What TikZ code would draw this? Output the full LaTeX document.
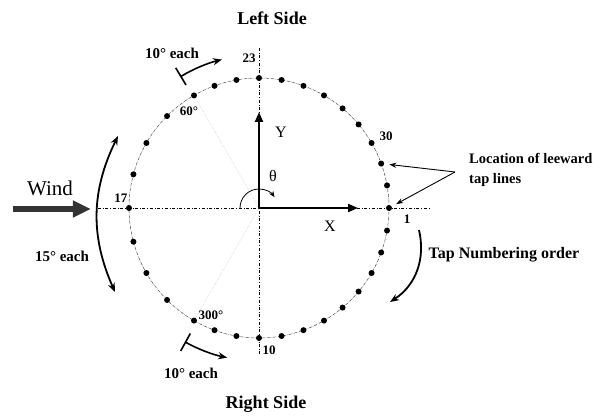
\documentclass[tikz,border=0pt]{standalone}
\usepackage{fontspec}
\setmainfont{Liberation Serif}
\usetikzlibrary{arrows.meta,positioning}
\tikzset{
  tap/.style={circle,fill=black,inner sep=0pt,minimum size=6pt},
  num/.style={font=\bfseries\fontsize{13}{13}\selectfont,inner sep=1pt},
  note/.style={font=\bfseries\fontsize{15}{20}\selectfont,inner sep=1pt},
  side/.style={font=\bfseries\fontsize{18}{18}\selectfont,inner sep=1pt},
  axisline/.style={dash dot,line width=0.8pt},
  vec/.style={-{Triangle[length=10pt,width=8pt]},line width=2.2pt},
  turn/.style={-{Stealth[length=9pt,width=7pt]},line width=1.8pt},
  guide/.style={densely dotted,gray!50,line width=0.5pt}
}

\begin{document}
\begin{tikzpicture}[x=1pt,y=1pt]
  \useasboundingbox (-259,-207) rectangle (334,208);
  \coordinate (o) at (0,0);
  \draw[densely dash dot,gray!60!black,line width=0.5pt] (o) circle[radius=130];
  \draw[axisline] (-161,0) -- (171,0);
  \draw[axisline] (0,160) -- (0,-147);

  \foreach \n in {1,...,32} {
    \pgfmathsetmacro\ang{\n<14 ? -10*(\n-1) : (\n<22 ? -120-15*(\n-13) : -240-10*(\n-21))}
    \node[tap] (t\n) at (\ang:130) {};
  }
  \draw[guide] (o) -- (t13);
  \draw[guide] (o) -- (t21);

  \coordinate (xend) at (99,0);
  \coordinate (yend) at (0,96);
  \draw[vec] (o) -- (xend);
  \draw[vec] (o) -- (yend);
  \node[font=\fontsize{16}{16}\selectfont] (xlab) at (71,-18) {X};
  \node[font=\fontsize{16}{16}\selectfont] (ylab) at (22,76) {Y};
  \node[font=\fontsize{16}{16}\selectfont] (theta) at (14,32) {θ};
  \draw[-{Stealth[length=6pt,width=5pt]},line width=0.8pt] (-19,0) arc[start angle=180,end angle=35,radius=19];

  \node[side] (leftside) at (13,190) {Left Side};
  \node[side] (rightside) at (7,-196) {Right Side};

  \node[num] (n23) at (-10,150) {23};
  \node[num] (n30) at (127,72) {30};
  \node[num] (n1) at (148,-11) {1};
  \node[num] (n17) at (-138,10) {17};
  \node[num] (n10) at (10,-142) {10};
  \node[num] (n60) at (-70,97) {60°};
  \node[num] (n300) at (-48,-107) {300°};

  \node[font=\fontsize{21}{21}\selectfont] (wind) at (-209,20) {Wind};
  \coordinate (windtail) at (-246,-1);
  \coordinate (windhead) at (-168,-1);
  \draw[black!80,line width=6pt,-{Triangle[length=18pt,width=16pt]}] (windtail) -- (windhead);

  \draw[{Stealth[length=9pt,width=7pt]}-{Stealth[length=9pt,width=7pt]},line width=1.8pt]
    (-141,72) to[bend right=25] (-144,-84);
  \node[note] (fifteen) at (-197,-48) {15° each};

  \draw[{Bar[width=20pt]}-{Stealth[length=9pt,width=7pt]},line width=1.6pt]
    (121:153) arc[start angle=121,end angle=104,radius=153];
  \node[note] (tentop) at (-87,155) {10° each};
  \draw[{Bar[width=20pt]}-{Stealth[length=9pt,width=7pt]},line width=1.6pt]
    (241:153) arc[start angle=241,end angle=258,radius=153];
  \node[note] (tenbot) at (-68,-165) {10° each};

  \draw[turn] (160,-22) to[bend left=35] (131,-94);
  \node[note,font=\bfseries\fontsize{16}{16}\selectfont] (order) at (245,-47) {Tap Numbering order};

  \coordinate (lee) at (196,36);
  \node[note,font=\bfseries\fontsize{14.5}{20}\selectfont,align=left,anchor=west] (leetxt) at (209,38) {Location of leeward\\tap lines};
  \draw[-{Stealth[length=7pt,width=5pt]},line width=0.9pt,shorten >=5pt] (lee) -- (t31);
  \draw[-{Stealth[length=7pt,width=5pt]},line width=0.9pt,shorten >=5pt] (lee) -- (t1);
\end{tikzpicture}
\end{document}
